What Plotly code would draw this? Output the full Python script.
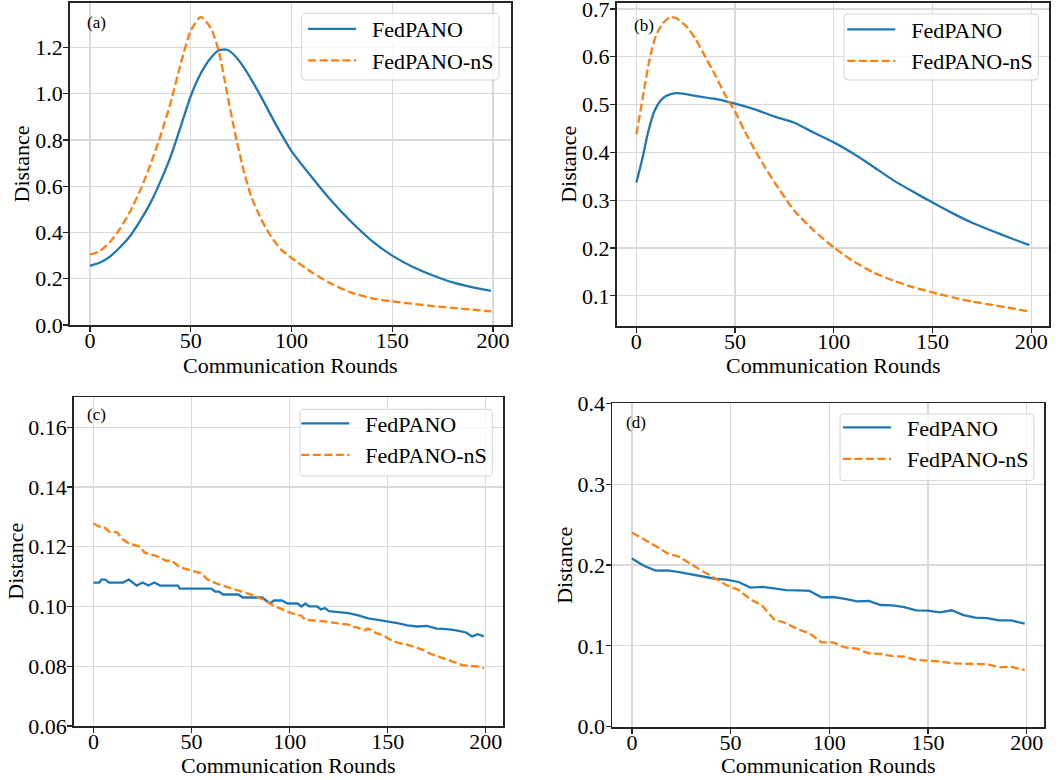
import plotly.graph_objects as go

# ---------------- data ----------------
series_names = ["FedPANO", "FedPANO-nS"]
x_ticks = [0, 50, 100, 150, 200]
panel_labels = ["(a)", "(b)", "(c)", "(d)"]

# (a)
a_x = [0, 5, 10, 15, 20, 25, 30, 35, 40, 45, 50, 55, 60, 64, 68, 72, 76, 80, 85, 90,
       95, 100, 110, 120, 130, 140, 150, 160, 170, 180, 190, 199]
a_fedpano = [0.256, 0.27, 0.297, 0.337, 0.386, 0.452, 0.528, 0.622, 0.728, 0.858, 0.99,
             1.088, 1.155, 1.188, 1.19, 1.163, 1.118, 1.062, 0.985, 0.903, 0.824, 0.752,
             0.64, 0.535, 0.443, 0.363, 0.300, 0.252, 0.215, 0.184, 0.163, 0.148]
a_fedpano_ns = [0.304, 0.32, 0.36, 0.418, 0.493, 0.584, 0.694, 0.819, 0.961, 1.129, 1.273,
                1.332, 1.283, 1.18, 1.003, 0.828, 0.676, 0.555, 0.456, 0.38, 0.325, 0.29,
                0.228, 0.177, 0.139, 0.115, 0.102, 0.092, 0.082, 0.074, 0.066, 0.059]

# (b)
b_x_fedpano = [0, 3, 6, 9, 12, 15, 20, 25, 30, 40, 50, 60, 70, 80, 90, 100, 110, 120, 130,
               140, 150, 160, 170, 180, 190, 199]
b_fedpano = [0.337, 0.386, 0.443, 0.485, 0.507, 0.518, 0.524, 0.522, 0.518, 0.512, 0.502,
             0.49, 0.475, 0.462, 0.441, 0.421, 0.397, 0.37, 0.342, 0.318, 0.295, 0.273,
             0.253, 0.236, 0.22, 0.206]
b_x_fedpano_ns = [0, 2, 4, 6, 8, 10, 13, 17, 20, 25, 30, 35, 40, 45, 50, 55, 60, 65, 70, 80,
                  90, 100, 110, 120, 130, 140, 150, 160, 170, 180, 190, 199]
b_fedpano_ns = [0.438, 0.485, 0.533, 0.58, 0.618, 0.645, 0.668, 0.683, 0.681, 0.665, 0.637,
                0.599, 0.561, 0.52, 0.485, 0.443, 0.405, 0.37, 0.337, 0.278, 0.236, 0.201,
                0.172, 0.149, 0.132, 0.118, 0.107, 0.097, 0.088, 0.081, 0.074, 0.067]

# (c)
c_x_fedpano = [0, 3, 4, 6, 8, 15, 18, 22, 25, 28, 31, 34, 43, 44, 60, 62, 64, 66, 74, 76, 86,
               90, 92, 96, 99, 104, 106, 108, 110, 114, 116, 118, 120, 125, 130, 135, 140,
               145, 150, 155, 160, 165, 170, 175, 180, 185, 190, 193, 196, 199]
c_fedpano = [0.108, 0.108, 0.109, 0.109, 0.108, 0.108, 0.109, 0.107, 0.108, 0.107, 0.108,
             0.107, 0.107, 0.106, 0.106, 0.105, 0.105, 0.104, 0.104, 0.103, 0.103, 0.101,
             0.102, 0.102, 0.101, 0.101, 0.100, 0.101, 0.100, 0.100, 0.099, 0.0995, 0.0984,
             0.098, 0.0978, 0.097, 0.096, 0.0955, 0.095, 0.0944, 0.0937, 0.0933, 0.0935,
             0.0926, 0.0924, 0.092, 0.0913, 0.090, 0.0907, 0.090]
c_x_fedpano_ns = [0, 3, 6, 8, 12, 15, 18, 24, 26, 32, 37, 40, 44, 49, 55, 58, 63, 70, 75, 82,
                  87, 92, 96, 102, 106, 108, 112, 118, 124, 130, 132, 134, 138, 140, 144,
                  148, 152, 156, 160, 164, 168, 172, 176, 180, 184, 188, 192, 196, 199]
c_fedpano_ns = [0.1278, 0.1267, 0.1263, 0.125, 0.1248, 0.1224, 0.1211, 0.120, 0.118,
                0.1169, 0.1153, 0.1153, 0.1131, 0.1122, 0.1111, 0.1091, 0.1076, 0.1061,
                0.105, 0.1036, 0.1022, 0.1002, 0.0991, 0.0975, 0.0969, 0.0955, 0.0953,
                0.095, 0.0944, 0.0939, 0.0931, 0.0931, 0.092, 0.0926, 0.0911, 0.0902,
                0.0886, 0.0877, 0.0872, 0.0864, 0.0855, 0.0841, 0.0832, 0.0823, 0.0812,
                0.0804, 0.0801, 0.0799, 0.0794]

# (d)
d_x = [0, 6, 12, 18, 24, 30, 36, 42, 48, 54, 60, 66, 72, 78, 84, 90, 96, 102, 108, 114,
       120, 126, 132, 138, 144, 150, 156, 162, 168, 174, 180, 186, 192, 199]
d_fedpano = [0.208, 0.199, 0.193, 0.1934, 0.1913, 0.1885, 0.185, 0.183, 0.182, 0.179,
             0.172, 0.173, 0.171, 0.169, 0.1687, 0.168, 0.160, 0.1604, 0.158, 0.155, 0.1555,
             0.1505, 0.150, 0.148, 0.144, 0.1435, 0.1414, 0.144, 0.138, 0.135, 0.1344,
             0.1315, 0.1315, 0.1276]
d_fedpano_ns = [0.240, 0.232, 0.2235, 0.2144, 0.210, 0.201, 0.1918, 0.1835, 0.175, 0.169,
                0.1575, 0.1497, 0.1328, 0.128, 0.1204, 0.1155, 0.1043, 0.1043, 0.098,
                0.0965, 0.0907, 0.090, 0.0874, 0.0866, 0.0825, 0.0817, 0.0808, 0.0784,
                0.0775, 0.0775, 0.0775, 0.0734, 0.0742, 0.070]

# y-axis settings per panel: (range, ticks, format)
y_ranges = [[0.0, 1.392], [0.0375, 0.7125], [0.06, 0.17], [0.0, 0.4]]
y_ticks = [[0.0, 0.2, 0.4, 0.6, 0.8, 1.0, 1.2],
           [0.1, 0.2, 0.3, 0.4, 0.5, 0.6, 0.7],
           [0.06, 0.08, 0.10, 0.12, 0.14, 0.16],
           [0.0, 0.1, 0.2, 0.3, 0.4]]
y_formats = [".1f", ".1f", ".2f", ".1f"]

# ---------------- layout helpers ----------------
W, H = 1063, 780
FONT = "Liberation Serif, Times New Roman, serif"
BLUE = "#1f77b4"
ORANGE = "#ff7f0e"
NB = "\u00a0\u00a0"


def px_x(p):
    return p / W


def px_y(p):
    return 1 - p / H


def rounded_box(x0, y0, x1, y1, r=4):
    X = lambda v: f"{px_x(v):.5f}"
    Y = lambda v: f"{px_y(v):.5f}"
    return (f"M {X(x0 + r)},{Y(y0)} L {X(x1 - r)},{Y(y0)} Q {X(x1)},{Y(y0)} {X(x1)},{Y(y0 + r)} "
            f"L {X(x1)},{Y(y1 - r)} Q {X(x1)},{Y(y1)} {X(x1 - r)},{Y(y1)} "
            f"L {X(x0 + r)},{Y(y1)} Q {X(x0)},{Y(y1)} {X(x0)},{Y(y1 - r)} "
            f"L {X(x0)},{Y(y0 + r)} Q {X(x0)},{Y(y0)} {X(x0 + r)},{Y(y0)} Z")


# frames in pixels: (left, right, top, bottom)
frames = [(70, 511, 3, 325), (616.7, 1049, 3, 325.7), (74, 503.3, 397.3, 726),
          (612.3, 1044.3, 403.3, 726.7)]
legend_pos = [(499, 8.0), (1038.3, 8.5), (492.3, 402.5), (1034, 406.5)]
legend_boxes = [(301.7, 13.3, 499, 80), (844, 14, 1038.3, 80), (300, 409.3, 492.3, 476),
                (840, 414, 1034, 480.7)]
xtitle_pos = [(290.5, 365), (833, 365), (288.7, 765), (828.3, 765)]
ytitle_pos = [(20.5, 164), (567.8, 164), (16, 561.7), (563.8, 565)]
label_pos = [(96, 22.5), (644, 25.5), (96, 414.5), (636, 423)]

panels = [
    ((a_x, a_fedpano), (a_x, a_fedpano_ns), "spline"),
    ((b_x_fedpano, b_fedpano), (b_x_fedpano_ns, b_fedpano_ns), "spline"),
    ((c_x_fedpano, c_fedpano), (c_x_fedpano_ns, c_fedpano_ns), "linear"),
    ((d_x, d_fedpano), (d_x, d_fedpano_ns), "linear"),
]

fig = go.Figure()
annotations = []
shapes = []
layout = dict(
    width=W, height=H,
    margin=dict(l=0, r=0, t=0, b=0, pad=0, autoexpand=False),
    paper_bgcolor="white", plot_bgcolor="white",
    font=dict(family=FONT, size=22, color="black"),
    hovermode=False,
)

for i, ((bx, by), (ox, oy), shape) in enumerate(panels):
    k = "" if i == 0 else str(i + 1)
    leg = "legend" + k
    xa, ya = "x" + k, "y" + k
    sm = 0.6 if shape == "spline" else None
    fig.add_trace(go.Scatter(x=bx, y=by, mode="lines", name=NB + series_names[0],
                             line=dict(color=BLUE, width=2.3, shape=shape, smoothing=sm),
                             xaxis=xa, yaxis=ya, legend=leg, showlegend=True))
    fig.add_trace(go.Scatter(x=ox, y=oy, mode="lines", name=NB + series_names[1],
                             line=dict(color=ORANGE, width=2.3, dash="8px,3.5px", shape=shape,
                                       smoothing=sm),
                             xaxis=xa, yaxis=ya, legend=leg, showlegend=True))
    l, r, t, b = frames[i]
    common = dict(showline=True, mirror=True, linecolor="#262626", linewidth=1.8,
                  ticks="outside", ticklen=5, tickwidth=1.2, tickcolor="#262626",
                  showgrid=True, gridcolor="#d9d9d9", gridwidth=1.2, zeroline=False,
                  automargin=False, ticklabeloverflow="allow",
                  tickfont=dict(family=FONT, size=22, color="black"))
    layout["xaxis" + k] = dict(common, domain=[px_x(l), px_x(r)], range=[-9.95, 208.95],
                               tickvals=x_ticks, anchor=ya, ticklabelstandoff=-10)
    layout["yaxis" + k] = dict(common, domain=[px_y(b), px_y(t)], range=y_ranges[i],
                               tickvals=y_ticks[i], tickformat=y_formats[i], anchor=xa,
                               ticklabelstandoff=-4)
    lx, ly = legend_pos[i]
    layout[leg] = dict(x=px_x(lx), y=px_y(ly), xanchor="right", yanchor="top",
                       xref="paper", yref="paper",
                       bgcolor="rgba(0,0,0,0)", borderwidth=0,
                       font=dict(family=FONT, size=22, color="black"), itemwidth=48,
                       tracegroupgap=0)
    shapes.append(dict(type="path", xref="paper", yref="paper", layer="above",
                       path=rounded_box(*legend_boxes[i]),
                       fillcolor="rgba(255,255,255,0.8)",
                       line=dict(color="#d4d4d4", width=1)))
    tx, ty = xtitle_pos[i]
    annotations.append(dict(text="Communication Rounds", x=px_x(tx), y=px_y(ty), xref="paper",
                            yref="paper", showarrow=False, xanchor="center", yanchor="middle",
                            font=dict(family=FONT, size=22, color="black")))
    vx, vy = ytitle_pos[i]
    annotations.append(dict(text="Distance", x=px_x(vx), y=px_y(vy), xref="paper",
                            yref="paper", showarrow=False, xanchor="center", yanchor="middle",
                            textangle=-90, font=dict(family=FONT, size=22, color="black")))
    gx, gy = label_pos[i]
    annotations.append(dict(text=panel_labels[i], x=px_x(gx), y=px_y(gy), xref="paper",
                            yref="paper", showarrow=False, xanchor="center", yanchor="middle",
                            font=dict(family=FONT, size=17, color="black")))

layout["annotations"] = annotations
layout["shapes"] = shapes
fig.update_layout(**layout)
fig.write_html("out.html", config={"displayModeBar": False, "staticPlot": True},
               post_script="document.body.style.margin='0px';")
